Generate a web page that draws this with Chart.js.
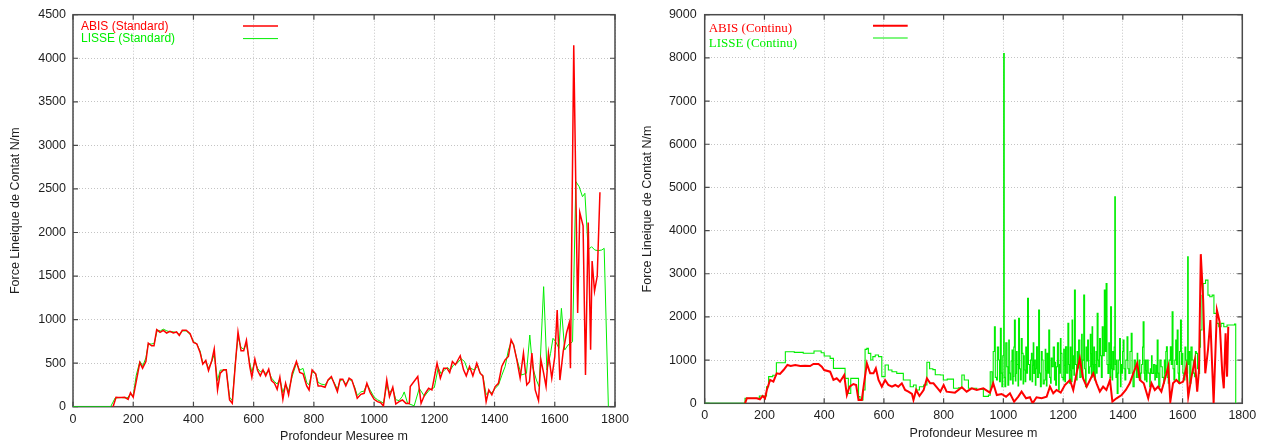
<!DOCTYPE html>
<html>
<head>
<meta charset="utf-8">
<script src="https://cdn.jsdelivr.net/npm/chart.js@4.4.1/dist/chart.umd.min.js"></script>
<style>
  html, body { margin: 0; padding: 0; background: #fff; }
  #wrap { position: relative; width: 1268px; height: 446px; }
  canvas { position: absolute; top: 0; }
  #chartStd { left: 0; }
  #chartCont { left: 630px; }
</style>
</head>
<body>
<div id="wrap">
  <canvas id="chartStd" width="630" height="446"></canvas>
  <canvas id="chartCont" width="638" height="446"></canvas>
</div>
<script>
// axis ranges
const depthMax = 1800, depthStep = 200;
const stdForceMax = 4500, stdForceStep = 500;
const contForceMax = 9000, contForceStep = 1000;

// ABIS (Standard): depth m / force N/m
const stdAbisDepth = [
  133,143,150,160,172,183,191,200,211,222,
  231,242,250,261,269,278,289,300,311,322,
  333,344,353,363,376,389,400,411,422,431,
  441,450,461,469,480,489,500,509,520,529,
  539,548,558,567,576,587,594,604,613,622,
  631,640,650,659,669,678,687,697,706,716,
  728,742,753,764,776,784,794,806,814,824,
  837,847,858,867,878,887,896,906,917,926,
  936,944,956,967,976,987,1000,1011,1022,1031,
  1042,1051,1062,1072,1083,1094,1106,1117,1120,1145,
  1156,1170,1181,1192,1209,1220,1231,1242,1251,1260,
  1270,1286,1297,1306,1317,1328,1341,1352,1361,1372,
  1381,1391,1402,1413,1424,1435,1446,1455,1463,1474,
  1485,1496,1507,1516,1524,1535,1546,1554,1563,1571,
  1579,1590,1600,1608,1617,1628,1639,1648,1652,1663,
  1676,1683,1694,1702,1711,1719,1724,1732,1741,1750
];
const stdAbis = [
  0,107,105,105,108,85,160,108,308,508,
  442,519,730,700,700,885,854,877,846,865,
  846,858,819,877,877,838,738,723,623,488,
  531,415,531,662,192,385,423,423,77,38,
  481,858,642,642,762,462,338,546,415,354,
  423,354,431,300,269,200,338,85,269,135,
  385,519,392,377,238,192,423,377,238,238,
  223,308,346,269,173,315,315,238,327,308,
  200,96,142,154,269,162,85,58,46,8,
  308,115,223,31,58,77,38,38,231,346,
  38,154,212,192,500,327,442,442,392,519,
  481,585,423,354,462,354,500,385,354,58,
  192,135,231,269,462,538,577,769,712,538,
  327,615,250,288,615,192,69,538,385,231,
  615,327,574,1110,306,635,846,962,442,4150,
  1077,2230,2077,365,2115,654,1673,1327,1500,2461
];

// LISSE (Standard)
const stdLisseDepth = [
  0,125,140,160,180,190,200,210,222,232,
  242,250,262,270,280,290,300,312,322,333,
  344,353,363,376,389,400,411,422,431,441,
  450,461,469,480,489,500,509,520,529,539,
  548,558,567,576,587,594,604,613,622,631,
  640,650,659,669,678,687,697,706,716,728,
  742,753,764,776,784,794,806,814,824,837,
  847,858,867,878,887,896,906,917,926,936,
  944,956,967,976,987,1000,1011,1022,1031,1042,
  1051,1062,1072,1083,1094,1100,1111,1133,1150,1167,
  1183,1200,1213,1222,1233,1244,1253,1264,1276,1289,
  1300,1311,1322,1333,1344,1353,1361,1372,1381,1391,
  1402,1413,1424,1435,1446,1455,1463,1472,1489,1506,
  1517,1526,1539,1548,1563,1574,1586,1594,1603,1614,
  1622,1633,1644,1659,1670,1681,1692,1700,1711,1722,
  1733,1744,1756,1764,1778
];
const stdLisse = [
  0,0,100,105,100,140,130,360,520,470,
  560,720,720,730,880,870,890,870,860,860,
  850,830,870,870,830,750,720,640,500,520,
  440,520,600,300,420,420,420,110,70,500,
  800,680,660,720,500,400,520,440,400,420,
  380,410,330,290,260,320,160,260,180,350,
  500,420,440,280,250,400,380,280,260,250,
  300,330,280,200,300,310,260,310,300,220,
  130,170,180,260,190,110,80,60,40,250,
  160,210,80,70,120,170,40,10,210,120,
  190,220,450,380,420,450,420,480,500,550,
  520,420,440,420,470,380,360,140,170,160,
  210,250,360,460,650,740,720,574,364,383,
  823,459,306,230,1378,421,612,785,746,670,
  1129,651,708,746,2584,2526,2411,2450,1799,1837,
  1799,1791,1799,1818,0
];

// ABIS (Continu)
const contAbisDepth = [
  135,141,174,185,194,202,208,219,230,241,
  252,264,277,288,303,320,336,353,364,381,
  392,400,420,431,442,453,467,476,485,498,
  507,515,526,532,543,554,565,573,582,593,
  604,615,627,638,648,660,671,682,694,699,
  708,719,733,744,755,766,780,789,800,810,
  838,861,877,894,911,933,955,966,978,994,
  1009,1022,1036,1050,1061,1076,1089,1098,1111,1128,
  1145,1156,1167,1178,1192,1206,1223,1234,1245,1256,
  1267,1279,1290,1301,1312,1323,1334,1345,1357,1365,
  1379,1396,1410,1423,1435,1448,1457,1470,1485,1496,
  1507,1518,1529,1540,1552,1559,1568,1579,1590,1602,
  1613,1619,1630,1641,1649,1655,1661,1669,1676,1685,
  1693,1700,1704,1715,1724,1733,1738,1744,1749,1753
];
const contAbis = [
  0,116,116,92,170,116,308,540,500,694,
  678,771,887,864,887,864,871,864,910,910,
  848,771,732,540,578,500,655,193,385,447,
  424,77,77,385,925,694,694,810,540,385,
  540,424,385,424,385,463,308,270,216,77,
  308,170,308,578,463,463,347,270,424,270,
  247,370,270,347,308,347,247,463,193,216,
  154,231,39,154,270,116,139,0,139,116,
  154,385,231,308,247,424,540,308,694,1041,
  578,385,540,694,463,270,385,308,540,39,
  116,193,308,463,694,925,540,463,116,463,
  308,385,270,540,848,39,463,540,463,501,
  848,154,617,1002,270,771,3454,2390,694,1234,
  1928,694,0,2159,1889,694,347,1619,617,1773
];

// LISSE (Continu), each value held until the next depth
const contLisseDepth = [
  0,135,183,207,214,228,240,270,300,330,
  366,390,400,420,431,462,470,481,489,509,
  515,520,530,537,543,548,556,563,571,582,
  593,604,615,627,643,654,665,682,688,699,
  708,719,733,744,753,764,772,789,799,812,
  833,850,861,869,883,911,933,950,956,
  962,966,970,973,977,980,984,987,990,993,
  995,998,1001,1003,1005,1008,1012,1015,1018,1020,
  1023,1026,1029,1031,1033,1035,1037,1040,1042,1044,
  1046,1049,1051,1054,1057,1060,1063,1066,1068,1070,
  1073,1075,1078,1081,1084,1088,1091,1094,1096,1098,
  1100,1102,1105,1107,1109,1111,1114,1118,1121,1124,
  1127,1130,1133,1137,1140,1142,1144,1146,1149,1152,
  1155,1158,1160,1163,1167,1171,1173,1175,1178,1181,
  1185,1187,1189,1191,1193,1196,1200,1202,1204,1206,
  1208,1212,1216,1219,1221,1224,1226,1228,1230,1232,
  1234,1236,1238,1241,1245,1247,1249,1252,1256,1260,
  1262,1264,1266,1269,1272,1275,1277,1279,1282,1285,
  1289,1291,1293,1295,1297,1299,1301,1303,1305,1308,
  1310,1312,1314,1317,1319,1322,1325,1328,1331,1334,
  1338,1341,1344,1347,1350,1353,1355,1357,1359,1362,
  1364,1366,1368,1371,1373,1375,1377,1379,1381,1384,
  1386,1389,1392,1394,1396,1399,1401,1404,1407,1410,
  1414,1417,1420,1424,1428,1431,1434,1438,1442,1445,
  1448,1450,1452,1455,1457,1460,1463,1466,1468,1471,
  1473,1475,1477,1479,1481,1485,1490,1492,1494,1496,
  1498,1503,1507,1509,1511,1513,1515,1518,1520,1524,
  1528,1532,1537,1539,1541,1544,1546,1549,1552,1555,
  1559,1562,1565,1568,1571,1574,1577,1580,1582,1585,
  1587,1590,1593,1596,1598,1601,1604,1608,1611,1614,
  1617,1619,1622,1624,1628,1632,1636,1640,1643,1646,
  1650,1654,1657,1660,1665,1669,1677,1685,1691,1699,
  1705,1714,1721,1729,1738,1749,1763,1774,1778
];
const contLisse = [
  0,116,170,385,617,650,940,1195,1180,1160,
  1210,1170,1095,1040,810,810,578,231,578,578,
  154,77,308,1249,1272,1157,1002,1080,1118,1080,
  617,887,771,732,694,694,540,540,385,424,
  308,385,424,950,800,780,660,655,540,560,
  350,360,655,540,350,320,160,190,732,
  385,1200,1773,600,540,1300,1002,500,1735,700,
  385,1100,8100,600,385,1400,848,420,1465,700,
  540,980,1234,450,620,1300,1928,520,694,1200,
  900,400,1966,800,540,1500,1157,450,1100,771,
  500,1300,700,2429,900,540,1000,1157,500,880,
  1400,694,1000,420,800,1311,600,2159,700,385,
  1200,1002,450,540,1250,760,400,1157,700,1696,
  600,463,1050,848,1300,540,950,420,848,1400,
  308,900,700,1500,1157,600,540,1250,880,500,
  1311,700,1850,900,463,1300,760,500,1928,800,
  1100,650,2621,900,540,1200,820,1465,600,1002,
  1600,620,1000,2506,800,385,1300,980,1465,700,
  848,1600,1150,600,1773,900,660,1300,540,900,
  1200,700,2082,1000,848,1500,1100,600,1773,1100,
  2621,1200,2776,900,694,1400,900,600,2236,800,
  540,1200,780,1300,4780,900,600,1000,231,700,
  1002,1500,385,900,700,1200,1465,800,540,1000,
  1542,800,694,1200,1619,700,385,1000,848,600,
  1157,800,600,1000,540,700,900,1300,1889,700,
  540,1000,760,500,1002,700,385,800,700,1100,
  694,900,540,700,880,600,1465,700,385,1000,
  848,600,463,1000,700,1200,1311,600,463,1000,
  1311,900,2120,800,540,1000,1465,900,1696,700,
  463,1200,1928,900,1157,700,540,1300,1002,700,
  3392,900,1200,463,1300,1002,700,617,1200,1157,
  800,694,1300,1696,2500,2776,2853,2506,2467,2506,
  2082,1850,1773,1850,1773,1812,1812,1835,0
];

const RED = '#ff0000';
const GREEN = '#00ee00';

Chart.defaults.font.family = '"Liberation Sans", Arial, sans-serif';
Chart.defaults.font.size = 12.5;
Chart.defaults.color = '#1e1e1e';

const pairs = (xs, ys) => xs.map((x, i) => ({ x: x, y: ys[i] }));

// box around the plot with inward tick marks on all four sides
const framePlugin = {
  id: 'frame',
  beforeDatasetsDraw(chart) {
    const { ctx, chartArea: a, scales } = chart;
    ctx.save();
    ctx.strokeStyle = '#4a4a4a';
    ctx.lineWidth = 1.5;
    ctx.strokeRect(a.left, a.top, a.right - a.left, a.bottom - a.top);
    ctx.lineWidth = 1.2;
    ctx.beginPath();
    scales.x.ticks.forEach(t => {
      const px = scales.x.getPixelForValue(t.value);
      ctx.moveTo(px, a.bottom); ctx.lineTo(px, a.bottom - 5);
      ctx.moveTo(px, a.top); ctx.lineTo(px, a.top + 5);
    });
    scales.y.ticks.forEach(t => {
      const py = scales.y.getPixelForValue(t.value);
      ctx.moveTo(a.left, py); ctx.lineTo(a.left + 5, py);
      ctx.moveTo(a.right, py); ctx.lineTo(a.right - 5, py);
    });
    ctx.stroke();
    ctx.restore();
  }
};

// gnuplot-like key: label text, then a line sample further right
function makeKey(cfg) {
  return {
    id: 'key',
    afterDatasetsDraw(chart) {
      const { ctx, chartArea: a } = chart;
      ctx.save();
      ctx.font = cfg.font;
      ctx.textBaseline = 'middle';
      ctx.textAlign = 'left';
      chart.data.datasets.forEach((ds, i) => {
        ctx.fillStyle = ds.borderColor;
        ctx.fillText(ds.label, a.left + cfg.textX, cfg.textY + i * cfg.textGap);
        const ly = cfg.lineY + i * cfg.lineGap;
        ctx.strokeStyle = ds.borderColor;
        ctx.lineWidth = ds.borderWidth;
        ctx.beginPath();
        ctx.moveTo(a.left + cfg.lineFrom, ly);
        ctx.lineTo(a.left + cfg.lineTo, ly);
        ctx.stroke();
      });
      ctx.restore();
    }
  };
}

function scalesFor(forceMax, forceStep, yWidth, xHeight, yTitlePad, xTitlePad, yTickPad) {
  const grid = {
    color: '#c4c4c4',
    lineWidth: 1,
    drawTicks: false
  };
  return {
    x: {
      type: 'linear',
      min: 0, max: depthMax,
      grid: grid,
      border: { display: false, dash: [1, 2] },
      ticks: { stepSize: depthStep, padding: 5, maxRotation: 0, format: { useGrouping: false } },
      title: {
        display: true, text: 'Profondeur Mesuree m',
        padding: { top: 0, bottom: xTitlePad }
      },
      afterFit(scale) {
        scale.height = xHeight;
        // let layout.padding alone decide the side margins
        scale.paddingLeft = 0;
        scale.paddingRight = 0;
      }
    },
    y: {
      type: 'linear',
      min: 0, max: forceMax,
      grid: grid,
      border: { display: false, dash: [1, 2] },
      ticks: { stepSize: forceStep, padding: yTickPad, format: { useGrouping: false } },
      title: {
        display: true, text: 'Force Lineique de Contat N/m',
        padding: { top: yTitlePad, bottom: 0 }
      },
      afterFit(scale) {
        scale.width = yWidth;
        scale.paddingTop = 0;
        scale.paddingBottom = 0;
      }
    }
  };
}

const baseOptions = {
  responsive: false,
  animation: false,
  events: [],
  plugins: { legend: { display: false }, tooltip: { enabled: false } },
  elements: { point: { radius: 0 }, line: { tension: 0 } }
};

new Chart(document.getElementById('chartStd'), {
  type: 'line',
  data: {
    datasets: [
      { label: 'ABIS (Standard)', data: pairs(stdAbisDepth, stdAbis), borderColor: RED, borderWidth: 1.5 },
      { label: 'LISSE (Standard)', data: pairs(stdLisseDepth, stdLisse), borderColor: GREEN, borderWidth: 1 }
    ]
  },
  options: Object.assign({}, baseOptions, {
    layout: { padding: { left: 0, right: 15, top: 14.7, bottom: 0 } },
    scales: scalesFor(stdForceMax, stdForceStep, 73, 39.3, 8.3, 1.5, 7)
  }),
  plugins: [framePlugin, makeKey({
    font: '12px "Liberation Sans", Arial, sans-serif',
    textX: 8, textY: 26.7, textGap: 12.4, lineY: 26, lineGap: 12.6, lineFrom: 170, lineTo: 205
  })]
});

new Chart(document.getElementById('chartCont'), {
  type: 'line',
  data: {
    datasets: [
      { label: 'ABIS (Continu)', data: pairs(contAbisDepth, contAbis), borderColor: RED, borderWidth: 2 },
      { label: 'LISSE (Continu)', data: pairs(contLisseDepth, contLisse), borderColor: GREEN, borderWidth: 1.1, stepped: true }
    ]
  },
  options: Object.assign({}, baseOptions, {
    layout: { padding: { left: 0, right: 25.7, top: 14.7, bottom: 0 } },
    scales: scalesFor(contForceMax, contForceStep, 74.7, 42.7, 9.8, 5.2, 8)
  }),
  plugins: [framePlugin, makeKey({
    font: '13px "Liberation Serif", "Times New Roman", serif',
    textX: 4, textY: 28.5, textGap: 14.7, lineY: 25.7, lineGap: 12.3, lineFrom: 168.3, lineTo: 203
  })]
});
</script>
</body>
</html>
